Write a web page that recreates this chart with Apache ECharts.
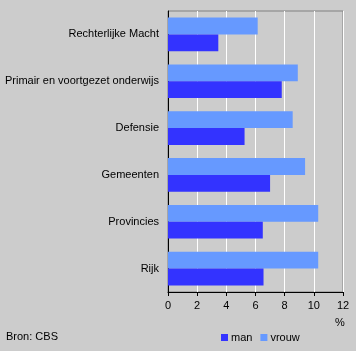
<!DOCTYPE html>
<html><head><meta charset="utf-8">
<script src="https://cdn.jsdelivr.net/npm/echarts@6/dist/echarts.min.js"></script>
<style>html,body{margin:0;padding:0;background:#cccccc;}#c{width:356px;height:351px;}</style>
</head><body><div id="c"></div>
<script>
var categories = ['Rijk', 'Provincies', 'Gemeenten', 'Defensie', 'Primair en voortgezet onderwijs', 'Rechterlijke Macht'];
var manValues = [6.55, 6.5, 7.0, 5.25, 7.8, 3.45];
var vrouwValues = [10.3, 10.3, 9.4, 8.55, 8.9, 6.15];
var xTicks = [0, 2, 4, 6, 8, 10, 12];
var FONT = 'Liberation Sans, Arial, sans-serif';
var chart = echarts.init(document.getElementById('c'), null, {renderer: 'canvas'});
chart.setOption({
  backgroundColor: '#cccccc',
  animation: false,
  textStyle: {fontFamily: FONT},
  grid: {left: 168, right: 13, top: 11, bottom: 59, show: true, borderColor: '#808080', borderWidth: 1, backgroundColor: 'transparent'},
  xAxis: {
    type: 'value', min: xTicks[0], max: xTicks[xTicks.length - 1], interval: 2,
    axisLine: {show: true, lineStyle: {color: '#000', width: 1}},
    axisTick: {show: true, length: 4, lineStyle: {color: '#000'}},
    axisLabel: {color: '#000', fontSize: 11, fontFamily: FONT, margin: 8},
    splitLine: {show: true, lineStyle: {color: '#ffffff', width: 1}}
  },
  yAxis: {
    type: 'category', data: categories,
    axisLine: {show: true, lineStyle: {color: '#000', width: 1}},
    axisTick: {show: false},
    axisLabel: {color: '#000', fontSize: 11, fontFamily: FONT, margin: 9}
  },
  legend: {
    data: ['man', 'vrouw'], left: 216, top: 327, itemWidth: 7, itemHeight: 7, itemGap: 8,
    icon: 'rect', textStyle: {fontSize: 11, color: '#000', fontFamily: FONT, padding: [0, 0, 0, -2]}
  },
  graphic: [
    {type: 'text', left: 335, top: 317, style: {text: '%', fontSize: 11, fontFamily: FONT, fill: '#000'}},
    {type: 'text', left: 6, top: 331, style: {text: 'Bron: CBS', fontSize: 11, fontFamily: FONT, fill: '#000'}}
  ],
  series: [
    {name: 'vrouw', type: 'bar', data: vrouwValues, itemStyle: {color: '#6699ff'}, barGap: '0%', barCategoryGap: '28%'},
    {name: 'man', type: 'bar', data: manValues, itemStyle: {color: '#3333ff'}, barGap: '0%', barCategoryGap: '28%'}
  ]
});
</script></body></html>
